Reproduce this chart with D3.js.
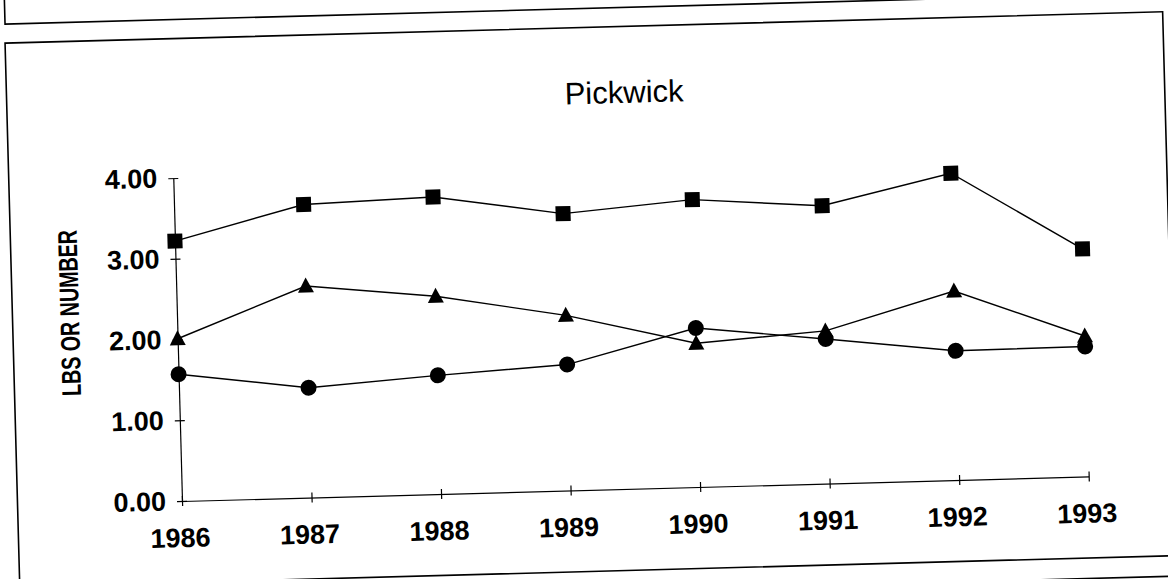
<html>
<head>
<script src="https://d3js.org/d3.v7.min.js"></script>
<style>
  body { margin: 0; background: #fff; }
  text { font-family: "Liberation Sans", Arial, sans-serif; fill: #000; }
</style>
</head>
<body>
<div id="chartDiv"></div>
<script>
// values
const years = [1986, 1987, 1988, 1989, 1990, 1991, 1992, 1993];
const squareValues = [3.22, 3.63, 3.68, 3.43, 3.56, 3.44, 3.80, 2.82];
const triangleValues = [2.01, 2.62, 2.45, 2.17, 1.78, 1.89, 2.34, 1.74];
const circleValues = [1.57, 1.36, 1.47, 1.56, 1.97, 1.79, 1.60, 1.61];
const yTicks = [0, 1, 2, 3, 4];
const chartTitle = "Pickwick";
const yTitle = "LBS OR NUMBER";

const W = 1168, H = 579;
const origin = { x: 182, y: 501 };
const plotW = 907, plotH = 323;

const svg = d3.select("#chartDiv").append("svg")
  .attr("width", W).attr("height", H);
svg.append("rect").attr("width", W).attr("height", H).attr("fill", "#fff");

// the page was scanned slightly crooked
const g = svg.append("g")
  .attr("transform", "rotate(-1.55," + origin.x + "," + origin.y + ")");

// frames: previous box bottom, this box, next box top
g.append("path")
  .attr("d", "M18,-120 L18,19.5 L1200,19.5")
  .attr("fill", "none").attr("stroke", "#000").attr("stroke-width", 1.6);
g.append("rect")
  .attr("x", 17.5).attr("y", 38.5).attr("width", 1158).attr("height", 544)
  .attr("fill", "none").attr("stroke", "#000").attr("stroke-width", 1.6);
g.append("line")
  .attr("x1", 900).attr("x2", 1250).attr("y1", 603).attr("y2", 603)
  .attr("stroke", "#000").attr("stroke-width", 1.6);

const x = d3.scalePoint()
  .domain(years)
  .range([origin.x, origin.x + plotW]);

const y = d3.scaleLinear()
  .domain([0, 4])
  .range([origin.y, origin.y - plotH]);

// axes
const xAxis = g.append("g")
  .attr("transform", "translate(0," + origin.y + ")")
  .call(d3.axisBottom(x).tickSizeInner(5).tickSizeOuter(0).tickPadding(22));
xAxis.select(".domain").attr("stroke-width", 1.2);
xAxis.selectAll(".tick line").attr("y1", -5).attr("y2", 5).attr("stroke-width", 1.2);
xAxis.selectAll(".tick text")
  .attr("dx", -3)
  .style("font-size", "27px").style("font-weight", "bold")
  .style("font-family", "'Liberation Sans', Arial, sans-serif");

const yAxis = g.append("g")
  .attr("transform", "translate(" + origin.x + ",0)")
  .call(d3.axisLeft(y).tickValues(yTicks).tickFormat(d3.format(".2f"))
    .tickSizeInner(5).tickSizeOuter(0).tickPadding(11));
yAxis.select(".domain").attr("stroke-width", 1.2);
yAxis.selectAll(".tick line").attr("x1", -5).attr("x2", 5).attr("stroke-width", 1.2);
yAxis.selectAll(".tick text")
  .style("font-size", "27px").style("font-weight", "bold")
  .style("font-family", "'Liberation Sans', Arial, sans-serif");

// titles
g.append("text")
  .attr("x", 635).attr("y", 115)
  .attr("text-anchor", "middle")
  .attr("textLength", 119).attr("lengthAdjust", "spacingAndGlyphs")
  .style("font-size", "31px")
  .text(chartTitle);

g.append("text")
  .attr("transform", "translate(84,310) rotate(-90)")
  .attr("text-anchor", "middle")
  .attr("textLength", 166).attr("lengthAdjust", "spacingAndGlyphs")
  .style("font-size", "27px").style("font-weight", "bold")
  .text(yTitle);

// series
const series = [
  { values: squareValues, shape: "square" },
  { values: triangleValues, shape: "triangle" },
  { values: circleValues, shape: "circle" }
];

const line = d3.line()
  .x((d, i) => x(years[i]))
  .y(d => y(d));

function markerPath(shape) {
  if (shape === "square") return "M-7.5,-7.5 H7.5 V7.5 H-7.5 Z";
  if (shape === "triangle") return "M0,-8.5 L8,6.5 L-8,6.5 Z";
  return d3.symbol(d3.symbolCircle, Math.PI * 8 * 8)();
}

series.forEach(s => {
  g.append("path")
    .datum(s.values)
    .attr("d", line)
    .attr("fill", "none")
    .attr("stroke", "#000")
    .attr("stroke-width", 1.4);

  g.selectAll(null)
    .data(s.values)
    .enter()
    .append("path")
    .attr("transform", (d, i) => "translate(" + x(years[i]) + "," + y(d) + ")")
    .attr("d", markerPath(s.shape))
    .attr("fill", "#000");
});
</script>
</body>
</html>
